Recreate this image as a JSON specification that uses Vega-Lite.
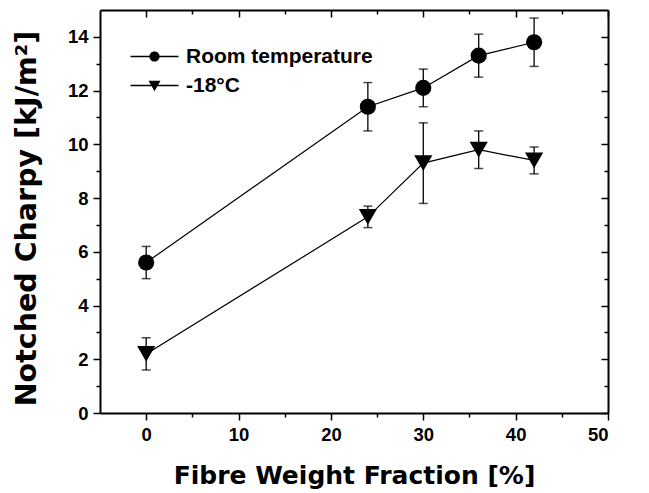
{
  "$schema": "https://vega.github.io/schema/vega-lite/v6.json",
  "width": 508,
  "height": 403,
  "autosize": {"type": "none"},
  "padding": {"left": 100, "top": 10, "right": 41, "bottom": 80},
  "background": "white",
  "config": {
    "view": {"stroke": null},
    "font": "Liberation Sans",
    "axis": {
      "grid": false,
      "domainColor": "black",
      "domainWidth": 2,
      "tickColor": "black",
      "tickWidth": 1.5,
      "labelFont": "Liberation Sans",
      "labelFontSize": 18.5,
      "labelFontWeight": "bold",
      "labelColor": "black",
      "titleFont": "DejaVu Sans",
      "titleFontWeight": "bold",
      "titleColor": "black"
    }
  },
  "data": {
    "values": [
      {"x": 0, "y": 5.6, "lo": 5.0, "hi": 6.2, "series": "Room temperature"},
      {"x": 24, "y": 11.4, "lo": 10.5, "hi": 12.3, "series": "Room temperature"},
      {"x": 30, "y": 12.1, "lo": 11.4, "hi": 12.8, "series": "Room temperature"},
      {"x": 36, "y": 13.3, "lo": 12.5, "hi": 14.1, "series": "Room temperature"},
      {"x": 42, "y": 13.8, "lo": 12.9, "hi": 14.7, "series": "Room temperature"},
      {"x": 0, "y": 2.2, "lo": 1.6, "hi": 2.8, "series": "-18°C"},
      {"x": 24, "y": 7.3, "lo": 6.9, "hi": 7.7, "series": "-18°C"},
      {"x": 30, "y": 9.3, "lo": 7.8, "hi": 10.8, "series": "-18°C"},
      {"x": 36, "y": 9.8, "lo": 9.1, "hi": 10.5, "series": "-18°C"},
      {"x": 42, "y": 9.4, "lo": 8.9, "hi": 9.9, "series": "-18°C"}
    ]
  },
  "layer": [
    {
      "mark": {"type": "rule", "color": "black", "strokeWidth": 1.3},
      "encoding": {
        "x": {"field": "x", "type": "quantitative", "scale": {"domain": [-5, 50], "nice": false, "zero": false}, "axis": null},
        "y": {"field": "lo", "type": "quantitative", "scale": {"domain": [0, 15], "nice": false}, "axis": null},
        "y2": {"field": "hi"}
      }
    },
    {
      "mark": {"type": "tick", "orient": "horizontal", "size": 9, "thickness": 1.5, "color": "black"},
      "encoding": {
        "x": {"field": "x", "type": "quantitative", "axis": null},
        "y": {"field": "lo", "type": "quantitative", "axis": null}
      }
    },
    {
      "mark": {"type": "tick", "orient": "horizontal", "size": 9, "thickness": 1.5, "color": "black"},
      "encoding": {
        "x": {"field": "x", "type": "quantitative", "axis": null},
        "y": {"field": "hi", "type": "quantitative", "axis": null}
      }
    },
    {
      "mark": {"type": "line", "color": "black", "strokeWidth": 1.2},
      "encoding": {
        "x": {"field": "x", "type": "quantitative", "axis": null},
        "y": {"field": "y", "type": "quantitative", "axis": null},
        "detail": {"field": "series", "type": "nominal"}
      }
    },
    {
      "transform": [{"filter": "datum.series === 'Room temperature'"}],
      "mark": {"type": "point", "shape": "circle", "filled": true, "color": "black", "opacity": 1, "size": 260},
      "encoding": {
        "x": {
          "field": "x", "type": "quantitative",
          "axis": {
            "orient": "bottom",
            "title": "Fibre Weight Fraction [%]",
            "titleFontSize": 25,
            "values": [0, 5, 10, 15, 20, 25, 30, 35, 40, 45, 50],
            "labelExpr": "datum.value % 10 === 0 ? datum.label : ''",
            "tickSize": {"condition": {"test": "datum.value % 10 === 0", "value": 7}, "value": 4},
            "labelPadding": 5,
            "titlePadding": 20
          }
        },
        "y": {
          "field": "y", "type": "quantitative",
          "axis": {
            "orient": "left",
            "title": "Notched Charpy [kJ/m²]",
            "titleFontSize": 28.5,
            "titleY": 208,
            "values": [0, 1, 2, 3, 4, 5, 6, 7, 8, 9, 10, 11, 12, 13, 14],
            "labelExpr": "datum.value % 2 === 0 ? datum.label : ''",
            "tickSize": {"condition": {"test": "datum.value % 2 === 0", "value": 7}, "value": 4},
            "labelPadding": 5,
            "titlePadding": 26
          }
        }
      }
    },
    {
      "transform": [{"filter": "datum.series === '-18°C'"}],
      "mark": {"type": "point", "shape": "triangle-down", "filled": true, "color": "black", "opacity": 1, "size": 330},
      "encoding": {
        "x": {"field": "x", "type": "quantitative", "axis": null},
        "y": {"field": "y", "type": "quantitative", "axis": null}
      }
    },
    {
      "mark": {"type": "point", "opacity": 0},
      "encoding": {
        "x": {
          "field": "x", "type": "quantitative",
          "axis": {
            "orient": "top", "title": null, "labels": false,
            "values": [0, 5, 10, 15, 20, 25, 30, 35, 40, 45, 50],
            "tickSize": {"condition": {"test": "datum.value % 10 === 0", "value": -7}, "value": -4}
          }
        },
        "y": {
          "field": "y", "type": "quantitative",
          "axis": {
            "orient": "right", "title": null, "labels": false,
            "values": [0, 1, 2, 3, 4, 5, 6, 7, 8, 9, 10, 11, 12, 13, 14],
            "tickSize": {"condition": {"test": "datum.value % 2 === 0", "value": -7}, "value": -4}
          }
        }
      }
    },
    {
      "mark": {"type": "point", "opacity": 0, "filled": true, "size": 144, "color": "black"},
      "encoding": {
        "x": {"field": "x", "type": "quantitative", "axis": null},
        "y": {"field": "y", "type": "quantitative", "axis": null},
        "shape": {
          "field": "series", "type": "nominal",
          "scale": {
            "domain": ["Room temperature", "-18°C"],
            "range": [
              "M-4,-0.12L-0.8,-0.12L-0.8,0.12L-4,0.12Z M0.8,-0.12L4,-0.12L4,0.12L0.8,0.12Z M-0.85,0A0.85,0.85 0 1,1 0.85,0A0.85,0.85 0 1,1 -0.85,0Z",
              "M-4,-0.12L-0.5,-0.12L-0.5,0.12L-4,0.12Z M0.5,-0.12L4,-0.12L4,0.12L0.5,0.12Z M-1,-0.8L1,-0.8L0,0.95Z"
            ]
          },
          "legend": {
            "orient": "none",
            "legendX": 44,
            "legendY": 36,
            "title": null,
            "padding": 0,
            "symbolSize": 144,
            "symbolFillColor": "black",
            "symbolOpacity": 1,
            "labelFont": "Liberation Sans",
            "labelFontSize": 21,
            "labelFontWeight": "bold",
            "labelColor": "black",
            "labelOffset": 21,
            "labelLimit": 400,
            "rowPadding": 7,
            "encode": {
              "symbols": {
                "opacity": {"value": 1},
                "fill": {"value": "black"}
              }
            }
          }
        }
      }
    }
  ],
  "resolve": {"axis": {"x": "independent", "y": "independent"}}
}
